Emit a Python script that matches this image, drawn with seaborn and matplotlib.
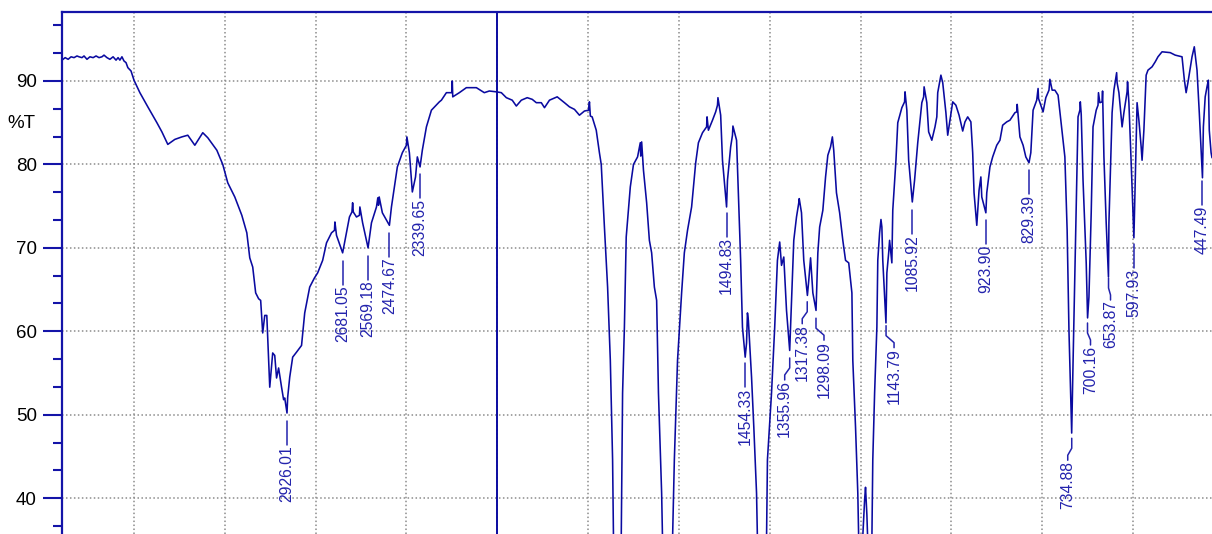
import numpy as np
import pandas as pd
import matplotlib
matplotlib.use("Agg")
import matplotlib.pyplot as plt
from matplotlib.ticker import MultipleLocator, NullFormatter, FixedLocator
from matplotlib.transforms import IdentityTransform
import seaborn as sns

# ---------------- data ----------------
wavenumber = [
    3917, 3903, 3890, 3877, 3864, 3851, 3842, 3829, 3820, 3807, 3794, 3780, 3767, 3754,
    3741, 3732, 3719, 3706, 3692, 3679, 3670, 3662, 3653, 3644, 3635, 3627, 3613, 3600,
    3574, 3539, 3499, 3477, 3451, 3420, 3389, 3363, 3332, 3297, 3275, 3235, 3209, 3187,
    3156, 3125, 3103, 3090, 3077, 3064, 3051, 3042, 3033, 3024, 3015, 3002, 2989, 2980,
    2972, 2963, 2950, 2941, 2936, 2926, 2923, 2914, 2901, 2884, 2862, 2848, 2826, 2805,
    2791, 2769, 2752, 2730, 2717, 2715, 2708, 2681, 2664, 2651, 2640, 2637, 2634, 2620,
    2607, 2605, 2593, 2569, 2554, 2532, 2526, 2523, 2520, 2506, 2475, 2466, 2453, 2440,
    2418, 2400, 2398, 2387, 2374, 2360, 2352, 2340, 2330, 2312, 2290, 2255, 2246, 2224,
    2200, 2198, 2196, 2167, 2136, 2092, 2057, 2035, 2004, 1991, 1980, 1967, 1958, 1947,
    1934, 1923, 1914, 1903, 1896, 1885, 1868, 1852, 1841, 1830, 1819, 1808, 1799, 1797,
    1795, 1791, 1782, 1775, 1771, 1764, 1757, 1751, 1746, 1744, 1735, 1727, 1724, 1720,
    1716, 1707, 1700, 1691, 1685, 1684, 1682, 1678, 1671, 1665, 1660, 1654, 1649, 1645,
    1638, 1636, 1625, 1614, 1610, 1603, 1594, 1588, 1581, 1572, 1563, 1557, 1548, 1539,
    1538, 1535, 1526, 1519, 1515, 1514, 1508, 1504, 1495, 1493, 1486, 1482, 1481, 1473,
    1469, 1464, 1460, 1454, 1451, 1449, 1447, 1440, 1435, 1429, 1427, 1418, 1407, 1405,
    1396, 1389, 1383, 1378, 1374, 1369, 1363, 1356, 1352, 1347, 1341, 1336, 1335, 1330,
    1325, 1317, 1314, 1310, 1305, 1298, 1294, 1290, 1283, 1277, 1272, 1266, 1262, 1259,
    1253, 1246, 1239, 1233, 1226, 1219, 1217, 1211, 1206, 1204, 1200, 1191, 1189, 1186,
    1180, 1175, 1173, 1169, 1164, 1162, 1158, 1155, 1153, 1151, 1144, 1142, 1138, 1136,
    1131, 1129, 1122, 1118, 1109, 1103, 1102, 1098, 1094, 1086, 1081, 1074, 1065, 1061,
    1060, 1054, 1050, 1043, 1036, 1032, 1030, 1023, 1019, 1012, 1008, 1003, 997, 990,
    983, 975, 970, 964, 957, 953, 950, 944, 939, 935, 933, 924, 922, 915,
    909, 900, 893, 887, 878, 871, 860, 856, 855, 849, 842, 836, 829, 825,
    820, 812, 809, 808, 798, 792, 785, 783, 778, 772, 765, 756, 750, 745,
    741, 735, 732, 726, 721, 717, 716, 714, 710, 703, 700, 697, 692, 688,
    681, 677, 676, 673, 668, 667, 664, 659, 654, 653, 646, 642, 636, 635,
    631, 624, 620, 613, 612, 609, 604, 598, 595, 591, 587, 582, 580, 576,
    571, 567, 558, 551, 545, 536, 518, 507, 492, 487, 483, 479, 470, 468,
    465, 459, 454, 447, 445, 441, 437, 434, 432, 428, 426,
]
transmittance = [
    92.5, 92.8, 92.6, 92.9, 92.8, 93.0, 92.9, 92.8, 93.0, 92.6, 92.9, 92.8, 93.0, 92.8,
    92.9, 93.1, 92.8, 92.6, 92.9, 92.5, 92.8, 92.5, 92.9, 92.4, 92.2, 91.6, 91.2, 90.1,
    88.6, 86.9, 85.0, 83.9, 82.4, 83.0, 83.3, 83.5, 82.3, 83.8, 83.2, 81.7, 80.0, 77.8,
    76.1, 73.9, 71.8, 68.8, 67.7, 64.6, 63.9, 63.7, 59.8, 61.9, 61.9, 53.3, 57.4, 57.1,
    54.4, 55.6, 53.3, 51.8, 52.0, 50.2, 52.1, 54.5, 56.9, 57.5, 58.3, 62.2, 65.3, 66.4,
    67.0, 68.5, 70.6, 71.8, 72.1, 73.1, 71.5, 69.4, 71.8, 73.7, 74.3, 75.4, 74.3, 73.7,
    73.9, 74.9, 73.0, 70.0, 73.0, 74.9, 76.0, 75.1, 76.1, 74.2, 72.7, 74.9, 77.3, 79.7,
    81.4, 82.3, 83.3, 81.4, 76.7, 78.5, 80.9, 79.7, 81.7, 84.5, 86.5, 87.5, 87.7, 88.6,
    88.6, 90.0, 88.1, 88.6, 89.2, 89.2, 88.6, 88.8, 88.7, 88.6, 88.0, 87.7, 87.0, 87.7,
    88.0, 87.8, 87.4, 87.4, 86.8, 87.7, 88.1, 87.4, 86.9, 86.6, 85.9, 86.4, 86.5, 87.5,
    85.8, 85.7, 84.1, 81.4, 80.0, 72.5, 65.3, 56.5, 44.6, 35.0, 20.0, 35.0, 52.6, 60.5,
    71.3, 77.3, 80.0, 80.9, 82.6, 81.0, 82.7, 79.3, 75.4, 70.9, 69.4, 65.3, 63.7, 52.6,
    40.6, 35.0, 22.0, 35.0, 44.6, 56.5, 64.6, 69.4, 72.1, 74.9, 80.2, 82.6, 83.8, 84.5,
    85.7, 84.1, 85.3, 86.3, 87.1, 88.0, 85.9, 80.5, 74.9, 78.1, 82.1, 83.5, 84.6, 82.9,
    76.6, 68.5, 60.5, 56.9, 58.6, 62.2, 61.3, 54.5, 48.5, 40.6, 35.0, 25.0, 35.0, 44.6,
    52.6, 60.5, 68.5, 70.7, 67.9, 68.9, 62.5, 57.7, 63.7, 70.9, 73.7, 75.4, 75.9, 74.2,
    68.5, 64.3, 66.1, 68.8, 64.6, 62.5, 69.4, 72.5, 74.5, 78.5, 81.1, 82.1, 83.3, 81.7,
    76.6, 74.2, 70.9, 68.5, 68.2, 64.6, 56.5, 48.5, 40.6, 35.0, 30.0, 39.8, 41.3, 38.0,
    28.0, 35.0, 44.6, 52.6, 60.5, 68.5, 71.8, 73.4, 72.5, 68.5, 61.0, 67.0, 69.4, 70.9,
    68.2, 74.5, 80.5, 85.0, 86.8, 87.5, 88.7, 86.5, 80.5, 75.5, 78.1, 82.6, 87.4, 88.1,
    89.3, 87.4, 83.9, 82.9, 84.5, 85.7, 88.6, 90.7, 89.8, 86.2, 83.5, 85.3, 87.5, 87.1,
    85.9, 84.0, 85.1, 85.7, 85.1, 81.4, 76.6, 72.7, 76.9, 78.5, 76.1, 74.2, 76.6, 79.7,
    80.9, 82.3, 82.9, 84.7, 85.1, 85.3, 86.2, 86.3, 87.2, 83.3, 82.3, 80.9, 80.2, 81.4,
    86.5, 87.7, 89.1, 87.9, 86.3, 88.0, 88.9, 90.2, 88.9, 88.9, 88.3, 83.8, 80.9, 72.1,
    60.1, 47.8, 56.2, 72.1, 85.7, 86.5, 87.5, 86.0, 78.1, 68.2, 61.6, 64.1, 74.2, 84.5,
    86.5, 87.1, 88.6, 87.4, 87.5, 88.8, 80.9, 73.0, 66.5, 73.0, 86.2, 88.9, 91.0, 89.8,
    88.6, 84.5, 86.2, 88.7, 89.9, 87.4, 80.2, 71.2, 78.1, 87.4, 85.3, 82.1, 80.5, 84.1,
    90.7, 91.3, 91.7, 92.3, 92.9, 93.5, 93.4, 93.1, 92.9, 90.2, 88.6, 89.8, 92.9, 93.4,
    94.1, 91.3, 86.2, 78.4, 84.5, 88.1, 89.3, 90.1, 84.1, 81.4, 80.8,
]
peak_wavenumbers = [2926.01, 2681.05, 2569.18, 2474.67, 2339.65, 1494.83, 1454.33,
                    1355.96, 1317.38, 1298.09, 1143.79, 1085.92, 923.90, 829.39,
                    734.88, 700.16, 653.87, 597.93, 447.49]
peak_labels = ["2926.01", "2681.05", "2569.18", "2474.67", "2339.65", "1494.83",
               "1454.33", "1355.96", "1317.38", "1298.09", "1143.79", "1085.92",
               "923.90", "829.39", "734.88", "700.16", "653.87", "597.93", "447.49"]
y_ticks = [40, 50, 60, 70, 80, 90]
x_grid = [3600, 3200, 2800, 2400, 2000, 1800, 1600, 1400, 1200, 1000, 800, 600]
break_wavenumber = 2000

# ---------------- layout / style (not data) ----------------
label_shift_px = [0, 0, 0, 0, 0, 0, 0, -5, -5, 8, 8, 0, 0, 0, -4, 3, 2, 0, 0]
LINE_C = "#0a0aa0"
LABEL_C = "#2323ad"
AX_C = "#1414a8"

sns.set_style("white")
plt.rcParams["font.family"] = ["Liberation Sans", "DejaVu Sans"]

df = pd.DataFrame({"wavenumber": wavenumber, "T": transmittance})

W, H = 1212, 534
fig = plt.figure(figsize=(W / 100, H / 100), dpi=100)
ax = fig.add_axes([62 / W, 0.0, (W - 62) / W, (H - 12) / H])

sns.lineplot(data=df, x="wavenumber", y="T", sort=False, estimator=None,
             color=LINE_C, linewidth=1.15, ax=ax)


def fwd(w):
    w = np.asarray(w, dtype=float)
    return np.where(w > break_wavenumber, break_wavenumber + (w - break_wavenumber) / 2.0, w)


def inv(u):
    u = np.asarray(u, dtype=float)
    return np.where(u > break_wavenumber, break_wavenumber + (u - break_wavenumber) * 2.0, u)


ax.set_xscale("function", functions=(fwd, inv))
ax.set_xlim(3917, 426)
ax.set_ylim(35.7, 98.27)

# grid
ax.xaxis.set_major_locator(FixedLocator(x_grid))
ax.xaxis.set_major_formatter(NullFormatter())
ax.xaxis.set_minor_locator(FixedLocator([]))
ax.tick_params(axis="x", length=0, labelbottom=False)
ax.yaxis.set_major_locator(FixedLocator(y_ticks))
ax.yaxis.set_minor_locator(MultipleLocator(10 / 3))
ax.yaxis.set_minor_formatter(NullFormatter())
grid_kw = dict(color="#8c8c8c", linestyle=(0, (1.0, 1.6)), linewidth=1.1)
ax.grid(True, which="major", axis="both", **grid_kw)
ax.set_axisbelow(True)
ax.axvline(break_wavenumber, color=LINE_C, linewidth=1.4, zorder=1.5)

ax.set_xlabel("")
ax.set_ylabel("")
for side in ("bottom", "right"):
    ax.spines[side].set_visible(False)
for side in ("top", "left"):
    ax.spines[side].set_visible(True)
    ax.spines[side].set_color(AX_C)
    ax.spines[side].set_linewidth(1.6)

ax.tick_params(axis="y", which="major", direction="out", length=13.5, width=1.5,
               color=AX_C, labelsize=13.5, labelcolor="black", pad=4.5, left=True)
ax.tick_params(axis="y", which="minor", direction="out", length=6.5, width=1.5,
               color=AX_C, left=True)

fig.text(21 / W, 1 - 124 / H, "%T", ha="center", va="center", fontsize=13.5, color="black")

# peak labels with leader lines (display pixel offsets from the band minimum)
wn_arr = np.array(wavenumber, dtype=float)
t_arr = np.array(transmittance, dtype=float)
ident = IdentityTransform()
for wn, lab, dx in zip(peak_wavenumbers, peak_labels, label_shift_px):
    tval = float(np.interp(wn, wn_arr[::-1], t_arr[::-1]))
    X, Y = ax.transData.transform((wn, tval))
    if dx == 0:
        xs = [X, X]
        ys = [Y - 8, Y - 32]
        ty = Y - 32.5
    else:
        xs = [X, X, X + dx, X + dx]
        ys = [Y - 8, Y - 18, Y - 25, Y - 30]
        ty = Y - 30.5
    ax.plot(xs, ys, transform=ident, color=LABEL_C, linewidth=1.1, clip_on=False)
    ax.text(X + dx, ty, lab, transform=ident, rotation=90, ha="center", va="top",
            fontsize=11.3, color=LABEL_C)

fig.savefig("out.png", dpi=100)
